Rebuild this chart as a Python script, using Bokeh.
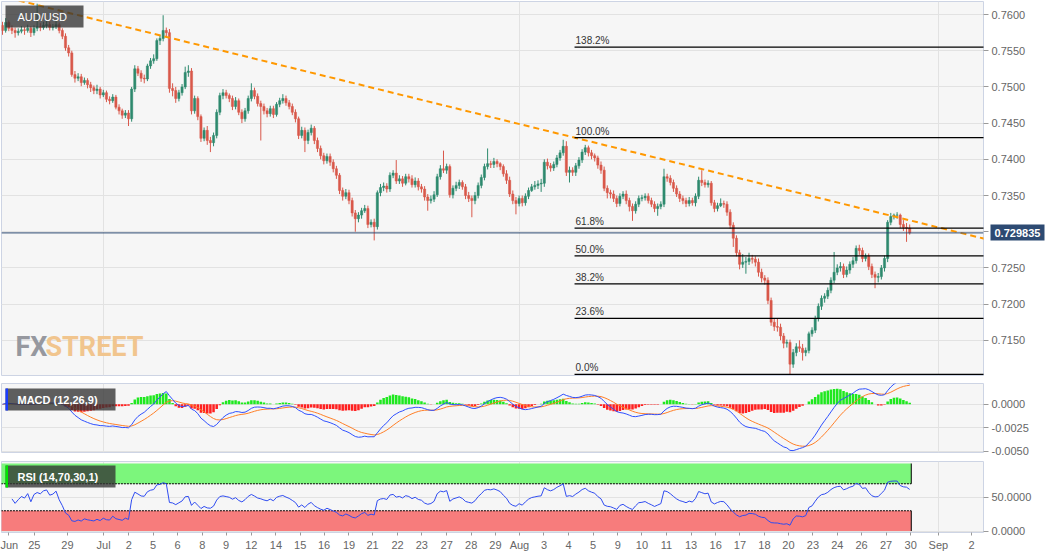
import numpy as np
import pandas as pd
from bokeh.plotting import figure
from bokeh.layouts import column
from bokeh.models import (ColumnDataSource, Range1d, FixedTicker, Grid, Label, Span,
                          BoxAnnotation, NumeralTickFormatter, CustomJSTickFormatter,
                          LinearAxis)
from bokeh.embed import file_html
from bokeh.resources import INLINE
from bokeh.core.properties import value

# ---------------- data (4H candles, AUD/USD) ----------------
symbol = "AUD/USD"
first_open = 0.7585
close = [
    0.7578, 0.7589, 0.7581, 0.7578, 0.7575, 0.7577, 0.7579, 0.7578, 0.7581, 0.7575,
    0.7581, 0.7583, 0.7582, 0.7585, 0.7586, 0.7582, 0.7583, 0.7586, 0.7578, 0.7570,
    0.7554, 0.7547, 0.7517, 0.7512, 0.7514, 0.7506, 0.7509, 0.7503, 0.7499, 0.7495,
    0.7497, 0.7489, 0.7492, 0.7483, 0.7481, 0.7486, 0.7472, 0.7467, 0.7461, 0.7464,
    0.7456, 0.7497, 0.7525, 0.7519, 0.7512, 0.7511, 0.7529, 0.7536, 0.7539, 0.7564,
    0.7567, 0.7578, 0.7575, 0.7498, 0.7495, 0.7484, 0.7492, 0.7500, 0.7520, 0.7522,
    0.7467, 0.7484, 0.7459, 0.7429, 0.7440, 0.7426, 0.7423, 0.7433, 0.7465, 0.7488,
    0.7492, 0.7488, 0.7484, 0.7473, 0.7481, 0.7465, 0.7456, 0.7467, 0.7484, 0.7495,
    0.7487, 0.7477, 0.7473, 0.7467, 0.7463, 0.7470, 0.7462, 0.7476, 0.7481, 0.7484,
    0.7478, 0.7473, 0.7465, 0.7456, 0.7433, 0.7440, 0.7426, 0.7437, 0.7443, 0.7426,
    0.7415, 0.7405, 0.7398, 0.7404, 0.7396, 0.7387, 0.7378, 0.7357, 0.7349, 0.7354,
    0.7343, 0.7326, 0.7318, 0.7323, 0.7329, 0.7332, 0.7310, 0.7313, 0.7307, 0.7354,
    0.7361, 0.7363, 0.7359, 0.7378, 0.7381, 0.7370, 0.7373, 0.7367, 0.7376, 0.7373,
    0.7365, 0.7370, 0.7362, 0.7359, 0.7348, 0.7343, 0.7345, 0.7351, 0.7376, 0.7387,
    0.7385, 0.7390, 0.7351, 0.7360, 0.7364, 0.7368, 0.7362, 0.7350, 0.7346, 0.7343,
    0.7350, 0.7364, 0.7375, 0.7390, 0.7394, 0.7393, 0.7397, 0.7394, 0.7390, 0.7380,
    0.7371, 0.7352, 0.7343, 0.7339, 0.7346, 0.7340, 0.7349, 0.7357, 0.7362, 0.7364,
    0.7366, 0.7367, 0.7396, 0.7391, 0.7388, 0.7393, 0.7402, 0.7409, 0.7418, 0.7382,
    0.7385, 0.7382, 0.7391, 0.7399, 0.7410, 0.7416, 0.7409, 0.7405, 0.7402, 0.7392,
    0.7385, 0.7360, 0.7354, 0.7352, 0.7346, 0.7339, 0.7349, 0.7352, 0.7343, 0.7335,
    0.7329, 0.7338, 0.7346, 0.7347, 0.7349, 0.7343, 0.7338, 0.7332, 0.7335, 0.7338,
    0.7376, 0.7374, 0.7368, 0.7360, 0.7352, 0.7346, 0.7343, 0.7339, 0.7343, 0.7340,
    0.7349, 0.7371, 0.7368, 0.7365, 0.7367, 0.7340, 0.7332, 0.7336, 0.7339, 0.7338,
    0.7327, 0.7309, 0.7291, 0.7271, 0.7255, 0.7258, 0.7259, 0.7263, 0.7262, 0.7258,
    0.7244, 0.7236, 0.7233, 0.7205, 0.7175, 0.7169, 0.7168, 0.7156, 0.7146, 0.7147,
    0.7117, 0.7133, 0.7141, 0.7139, 0.7133, 0.7136, 0.7159, 0.7164, 0.7180, 0.7197,
    0.7208, 0.7211, 0.7219, 0.7233, 0.7244, 0.7250, 0.7252, 0.7241, 0.7247, 0.7255,
    0.7260, 0.7277, 0.7274, 0.7263, 0.7266, 0.7252, 0.7241, 0.7237, 0.7238, 0.7250,
    0.7263, 0.7313, 0.7321, 0.7323, 0.7323, 0.7310, 0.7306, 0.7305, 0.729835,
]
high = [
    0.7590, 0.7595, 0.7592, 0.7585, 0.7582, 0.7581, 0.7584, 0.7583, 0.7586, 0.7584,
    0.7585, 0.7615, 0.7588, 0.7590, 0.7592, 0.7590, 0.7587, 0.7591, 0.7589, 0.7581,
    0.7574, 0.7558, 0.7550, 0.7522, 0.7519, 0.7518, 0.7513, 0.7512, 0.7507, 0.7502,
    0.7503, 0.7500, 0.7496, 0.7495, 0.7487, 0.7490, 0.7489, 0.7476, 0.7470, 0.7468,
    0.7468, 0.7500, 0.7530, 0.7529, 0.7523, 0.7517, 0.7532, 0.7540, 0.7545, 0.7567,
    0.7572, 0.7599, 0.7582, 0.7580, 0.7505, 0.7500, 0.7496, 0.7504, 0.7528, 0.7530,
    0.7526, 0.7488, 0.7487, 0.7462, 0.7444, 0.7446, 0.7431, 0.7437, 0.7469, 0.7492,
    0.7497, 0.7496, 0.7491, 0.7488, 0.7486, 0.7484, 0.7469, 0.7471, 0.7488, 0.7505,
    0.7499, 0.7491, 0.7481, 0.7477, 0.7471, 0.7474, 0.7474, 0.7479, 0.7485, 0.7490,
    0.7488, 0.7482, 0.7477, 0.7469, 0.7459, 0.7445, 0.7444, 0.7441, 0.7448, 0.7446,
    0.7430, 0.7419, 0.7409, 0.7408, 0.7408, 0.7400, 0.7391, 0.7381, 0.7361, 0.7359,
    0.7358, 0.7347, 0.7330, 0.7327, 0.7333, 0.7337, 0.7336, 0.7317, 0.7318, 0.7357,
    0.7366, 0.7368, 0.7367, 0.7382, 0.7385, 0.7399, 0.7378, 0.7377, 0.7380, 0.7380,
    0.7378, 0.7375, 0.7374, 0.7366, 0.7363, 0.7352, 0.7350, 0.7356, 0.7380, 0.7392,
    0.7412, 0.7394, 0.7393, 0.7364, 0.7369, 0.7372, 0.7371, 0.7366, 0.7355, 0.7350,
    0.7355, 0.7368, 0.7379, 0.7394, 0.7415, 0.7398, 0.7402, 0.7400, 0.7396, 0.7393,
    0.7385, 0.7376, 0.7357, 0.7348, 0.7350, 0.7350, 0.7353, 0.7361, 0.7366, 0.7370,
    0.7371, 0.7373, 0.7400, 0.7401, 0.7395, 0.7397, 0.7406, 0.7413, 0.7427, 0.7425,
    0.7390, 0.7389, 0.7395, 0.7403, 0.7414, 0.7420, 0.7419, 0.7413, 0.7408, 0.7405,
    0.7397, 0.7390, 0.7364, 0.7358, 0.7357, 0.7350, 0.7353, 0.7356, 0.7357, 0.7347,
    0.7339, 0.7342, 0.7350, 0.7351, 0.7353, 0.7353, 0.7347, 0.7342, 0.7339, 0.7342,
    0.7387, 0.7380, 0.7378, 0.7372, 0.7364, 0.7356, 0.7350, 0.7347, 0.7348, 0.7347,
    0.7353, 0.7376, 0.7385, 0.7372, 0.7371, 0.7370, 0.7344, 0.7340, 0.7346, 0.7343,
    0.7342, 0.7331, 0.7313, 0.7295, 0.7275, 0.7269, 0.7265, 0.7271, 0.7268, 0.7266,
    0.7263, 0.7249, 0.7240, 0.7237, 0.7209, 0.7180, 0.7180, 0.7173, 0.7160, 0.7151,
    0.7151, 0.7138, 0.7146, 0.7150, 0.7145, 0.7140, 0.7162, 0.7168, 0.7184, 0.7201,
    0.7212, 0.7215, 0.7223, 0.7237, 0.7272, 0.7255, 0.7258, 0.7256, 0.7252, 0.7259,
    0.7265, 0.7281, 0.7282, 0.7278, 0.7270, 0.7270, 0.7256, 0.7245, 0.7243, 0.7254,
    0.7267, 0.7316, 0.7326, 0.7325, 0.7327, 0.7325, 0.7316, 0.7312, 0.7310,
]
low = [
    0.7572, 0.7575, 0.7577, 0.7573, 0.7568, 0.7571, 0.7574, 0.7572, 0.7575, 0.7569,
    0.7571, 0.7577, 0.7577, 0.7579, 0.7581, 0.7578, 0.7578, 0.7580, 0.7574, 0.7566,
    0.7550, 0.7542, 0.7514, 0.7506, 0.7508, 0.7501, 0.7503, 0.7498, 0.7493, 0.7490,
    0.7490, 0.7484, 0.7486, 0.7479, 0.7476, 0.7478, 0.7469, 0.7462, 0.7456, 0.7457,
    0.7446, 0.7452, 0.7493, 0.7515, 0.7507, 0.7505, 0.7508, 0.7525, 0.7532, 0.7536,
    0.7558, 0.7563, 0.7569, 0.7492, 0.7487, 0.7478, 0.7480, 0.7488, 0.7497, 0.7514,
    0.7462, 0.7463, 0.7454, 0.7424, 0.7425, 0.7420, 0.7410, 0.7418, 0.7429, 0.7461,
    0.7483, 0.7484, 0.7479, 0.7468, 0.7469, 0.7461, 0.7450, 0.7452, 0.7463, 0.7480,
    0.7483, 0.7473, 0.7426, 0.7462, 0.7458, 0.7459, 0.7457, 0.7459, 0.7472, 0.7477,
    0.7474, 0.7469, 0.7461, 0.7451, 0.7428, 0.7429, 0.7410, 0.7421, 0.7433, 0.7421,
    0.7410, 0.7400, 0.7393, 0.7394, 0.7391, 0.7382, 0.7373, 0.7352, 0.7343, 0.7345,
    0.7338, 0.7321, 0.7300, 0.7313, 0.7318, 0.7326, 0.7305, 0.7306, 0.7288, 0.7303,
    0.7349, 0.7356, 0.7354, 0.7355, 0.7374, 0.7366, 0.7366, 0.7362, 0.7364, 0.7368,
    0.7361, 0.7361, 0.7357, 0.7354, 0.7343, 0.7329, 0.7339, 0.7341, 0.7348, 0.7372,
    0.7381, 0.7380, 0.7347, 0.7346, 0.7356, 0.7359, 0.7358, 0.7345, 0.7341, 0.7320,
    0.7338, 0.7346, 0.7360, 0.7371, 0.7386, 0.7388, 0.7388, 0.7389, 0.7385, 0.7376,
    0.7366, 0.7348, 0.7338, 0.7324, 0.7335, 0.7335, 0.7336, 0.7345, 0.7355, 0.7358,
    0.7359, 0.7355, 0.7362, 0.7386, 0.7383, 0.7384, 0.7389, 0.7398, 0.7405, 0.7377,
    0.7368, 0.7377, 0.7377, 0.7387, 0.7395, 0.7406, 0.7404, 0.7400, 0.7397, 0.7387,
    0.7380, 0.7356, 0.7346, 0.7346, 0.7341, 0.7334, 0.7335, 0.7345, 0.7338, 0.7328,
    0.7315, 0.7325, 0.7334, 0.7342, 0.7343, 0.7339, 0.7334, 0.7327, 0.7322, 0.7331,
    0.7334, 0.7369, 0.7364, 0.7355, 0.7348, 0.7341, 0.7338, 0.7334, 0.7335, 0.7336,
    0.7335, 0.7345, 0.7363, 0.7361, 0.7361, 0.7336, 0.7327, 0.7328, 0.7334, 0.7333,
    0.7322, 0.7304, 0.7279, 0.7266, 0.7248, 0.7250, 0.7242, 0.7254, 0.7256, 0.7252,
    0.7238, 0.7230, 0.7227, 0.7200, 0.7170, 0.7163, 0.7162, 0.7150, 0.7139, 0.7140,
    0.7103, 0.7112, 0.7128, 0.7134, 0.7122, 0.7128, 0.7132, 0.7155, 0.7160, 0.7176,
    0.7192, 0.7202, 0.7207, 0.7215, 0.7229, 0.7240, 0.7245, 0.7236, 0.7237, 0.7242,
    0.7250, 0.7256, 0.7268, 0.7258, 0.7259, 0.7247, 0.7236, 0.7222, 0.7230, 0.7234,
    0.7245, 0.7258, 0.7309, 0.7317, 0.7318, 0.7305, 0.7301, 0.7286, 0.7296,
]

# x-axis date labels (candle index where each label sits)
tick_pos = [2.0, 10.1, 20.6, 32.1, 40.1, 47.8, 55.6, 63.4, 71.0, 79.0, 86.8, 94.5,
            102.1, 110.0, 117.5, 125.4, 133.1, 141.0, 148.8, 156.5, 164.1, 171.9,
            179.7, 187.5, 195.3, 203.0, 210.8, 218.6, 226.4, 234.1, 241.9, 249.5,
            257.3, 265.0, 272.7, 280.5, 288.3, 297.1, 307.6]
tick_labels = ["Jun", "25", "29", "Jul", "2", "5", "6", "8", "9", "12", "14", "15",
               "16", "19", "21", "22", "23", "27", "28", "29", "Aug", "3",
               "4", "5", "9", "10", "11", "13", "16", "17", "18", "20",
               "23", "24", "26", "27", "30", "Sep", "2"]
month_pos = [32.1, 164.1, 297.1]

price_ticks = [0.7150, 0.7200, 0.7250, 0.7300, 0.7350, 0.7400, 0.7450, 0.7500, 0.7550, 0.7600]
macd_ticks = [-0.0050, -0.0025, 0.0]
rsi_ticks = [0.0, 50.0]

# Fibonacci retracement (Aug 20 low -> Aug 4 high)
fib_low = 0.7103
fib_high = 0.7430
fib_ratios = [0.0, 0.236, 0.382, 0.5, 0.618, 1.0, 1.382]
fib_labels = ["0.0%", "23.6%", "38.2%", "50.0%", "61.8%", "100.0%", "138.2%"]
fib_start = 181.6

# descending trend line anchors (candle index, price)
trend_idx = [-1.0, 312.0]
trend_price = [0.76260, 0.72900]

rsi_upper = 70
rsi_lower = 30

# ---------------- derived ----------------
n = len(close)
idx = np.arange(n)
c = np.array(close)
o = np.array([first_open] + close[:-1])
GREEN, RED = "#2e8a6e", "#d9584a"
col = np.where(c >= o, GREEN, RED)
src = ColumnDataSource(dict(x=idx, h=high, l=low, top=np.maximum(o, c),
                            bot=np.minimum(o, c), col=col))

s = pd.Series(close)
ema12 = s.ewm(span=12, adjust=False).mean()
ema26 = s.ewm(span=26, adjust=False).mean()
macd = ema12 - ema26
signal = macd.ewm(span=9, adjust=False).mean()
hist = macd - signal
d = s.diff()
gain = d.clip(lower=0)
loss = (-d).clip(lower=0)
ag = gain.ewm(alpha=1 / 14, adjust=True, min_periods=3).mean()
al = loss.ewm(alpha=1 / 14, adjust=True, min_periods=3).mean()
rsi = 100 - 100 / (1 + ag / al)

levels = [fib_low + r * (fib_high - fib_low) for r in fib_ratios]

# ---------------- styling helpers ----------------
X0, X1 = -0.317, 311.43
xr = Range1d(X0, X1)
BG = "#f6f6f6"
GRIDC = "#e2e2e2"
OUTC = "#cdd4e4"
FONT = "Liberation Sans"
NAVY = "#2d4a72"


def make_fig(height, yr, top, bottom, xaxis, yaxis=True):
    p = figure(width=1060, height=height, x_range=xr, y_range=yr, output_backend="svg",
               toolbar_location=None, title=None,
               x_axis_location=("below" if xaxis else None),
               y_axis_location=("right" if yaxis else None),
               min_border_left=1, min_border_right=77, min_border_top=top,
               min_border_bottom=bottom, background_fill_color=BG,
               border_fill_color="white", outline_line_color=OUTC)
    for g in p.xgrid:
        g.visible = False
    p.add_layout(Grid(dimension=0, ticker=FixedTicker(ticks=month_pos),
                      grid_line_color=GRIDC, grid_line_width=1))
    return p


def style_axis(ax, ticks):
    ax.ticker = FixedTicker(ticks=ticks)
    ax.formatter = NumeralTickFormatter(format="0.0000")
    ax.axis_line_color = None
    ax.major_tick_out = 5
    ax.major_tick_in = 0
    ax.major_tick_line_color = "#9a9a9a"
    ax.minor_tick_line_color = None
    ax.major_label_text_font = FONT
    ax.major_label_text_font_size = "11px"
    ax.major_label_text_color = "#666666"
    ax.major_label_standoff = 3


def style_yaxis(p, ticks):
    style_axis(p.yaxis[0], ticks)
    p.ygrid.ticker = FixedTicker(ticks=ticks)
    p.ygrid.grid_line_color = GRIDC


def tag_box(p, left, right, top, bottom, bar_color, text):
    p.add_layout(BoxAnnotation(left=left, right=right, top=top, bottom=bottom,
                               left_units="screen", right_units="screen",
                               top_units="screen", bottom_units="screen",
                               fill_color="#333333", fill_alpha=0.78, line_color=None))
    if bar_color:
        p.add_layout(BoxAnnotation(left=left, right=left + 2.5, top=top, bottom=bottom,
                                   left_units="screen", right_units="screen",
                                   top_units="screen", bottom_units="screen",
                                   fill_color=bar_color, fill_alpha=1, line_color=None))
    p.add_layout(Label(x=left + 12, y=(top + bottom) / 2, x_units="screen", y_units="screen",
                       text=text, text_color="white", text_font=FONT,
                       text_font_size="11px",
                       text_font_style=("bold" if bar_color else "normal"),
                       text_baseline="middle"))


# ---------------- main price panel ----------------
p1 = make_fig(378, Range1d(0.71014, 0.76180), 1, 3, False, yaxis=False)
p1.add_layout(Grid(dimension=1, ticker=FixedTicker(ticks=price_ticks),
                   grid_line_color=GRIDC, grid_line_width=1))
price_axis = LinearAxis()
style_axis(price_axis, price_ticks)
p1.add_layout(price_axis, "right")

# last-price tag drawn by a second right axis (one tick, thick navy tick mark)
tag_axis = LinearAxis(ticker=FixedTicker(ticks=[close[-1]]),
                      formatter=NumeralTickFormatter(format="0.000000"),
                      axis_line_color=None, minor_tick_line_color=None,
                      minor_tick_in=0, minor_tick_out=0,
                      major_tick_in=38, major_tick_out=16,
                      major_tick_line_width=16, major_tick_line_color=NAVY,
                      major_tick_line_cap="butt",
                      major_label_standoff=-50, major_label_text_color="white",
                      major_label_text_font=FONT, major_label_text_font_size="11px",
                      major_label_text_font_style="bold")
p1.add_layout(tag_axis, "right")

p1.segment(x0="x", y0="h", x1="x", y1="l", source=src, line_color="col", line_width=1)
p1.vbar(x="x", width=0.7, top="top", bottom="bot", source=src,
        fill_color="col", line_color="col", line_width=0.5)

p1.line(trend_idx, trend_price, line_color="#ff9800", line_width=2, line_dash="6 4")

p1.segment(x0=[fib_start] * len(levels), y0=levels, x1=[X1 + 2] * len(levels), y1=levels,
           line_color="black", line_width=1.3)
p1.text(x=[fib_start] * len(levels), y=levels, text=fib_labels,
        text_font=value(FONT), text_font_size=value("10px"), text_color="#333333",
        text_baseline="bottom", x_offset=1, y_offset=-1)

p1.add_layout(Span(location=close[-1], dimension="width", line_color=NAVY, line_width=1))

# watermark
p1.add_layout(Label(x=14, y=29, x_units="screen", y_units="screen", text="FX",
                    text_font="Roboto", text_font_style="bold",
                    text_font_size="27px", text_color="#96989f",
                    text_baseline="alphabetic"))
p1.add_layout(Label(x=44, y=29, x_units="screen", y_units="screen", text="STREET",
                    text_font="Roboto", text_font_style="bold",
                    text_font_size="27px", text_color="#f1c58e",
                    text_baseline="alphabetic"))

tag_box(p1, 4, 82, 370, 348, None, symbol)

# ---------------- MACD panel ----------------
p2 = make_fig(78, Range1d(-0.00511, 0.00220), 5, 4, False)
style_yaxis(p2, macd_ticks)
hcol = np.where(hist.values >= 0, "#1fe81f", "#ff2020")
p2.vbar(x=idx, top=hist.values, bottom=0, width=0.8, fill_color=hcol, line_color=None)
p2.line(idx, signal.values, line_color="#ff7f27", line_width=1)
p2.line(idx, macd.values, line_color="#2f50ff", line_width=1)
tag_box(p2, 4, 114, 64, 42, "#1a3cff", "MACD (12,26,9)")

# ---------------- RSI panel ----------------
p3 = make_fig(99, Range1d(-2.2, 103.0), 5, 23, True)
style_yaxis(p3, rsi_ticks)
p3.quad(left=-0.5, right=n - 0.5, bottom=rsi_upper, top=100, fill_color="#7cf67c",
        line_color=None)
p3.quad(left=-0.5, right=n - 0.5, bottom=0, top=rsi_lower, fill_color="#f77c7c",
        line_color=None)
p3.segment(x0=[-0.5, -0.5], x1=[n - 0.5, n - 0.5], y0=[rsi_upper, rsi_lower],
           y1=[rsi_upper, rsi_lower], line_color="black", line_width=1, line_dash="2 1")
p3.segment(x0=[n - 0.5, n - 0.5], x1=[n - 0.5, n - 0.5], y0=[rsi_upper, 0],
           y1=[100, rsi_lower], line_color="black", line_width=1)
p3.line(idx, rsi.values, line_color="#2f4cf0", line_width=1)
tag_box(p3, 4, 114, 67, 45, "#00e600", "RSI (14,70,30,1)")

xa = p3.xaxis[0]
xa.ticker = FixedTicker(ticks=tick_pos)
xa.formatter = CustomJSTickFormatter(args=dict(pos=tick_pos, lab=tick_labels), code="""
    for (let i = 0; i < pos.length; i++) { if (Math.abs(pos[i] - tick) < 1e-6) return lab[i]; }
    return '';
""")
xa.axis_line_color = None
xa.major_tick_out = 3
xa.major_tick_in = 0
xa.major_tick_line_color = "#9a9a9a"
xa.minor_tick_line_color = None
xa.major_label_text_font = FONT
xa.major_label_text_font_size = "11px"
xa.major_label_text_color = "#666666"
xa.major_label_standoff = 3

layout = column(p1, p2, p3, spacing=0)
open("out.html", "w").write(file_html(layout, INLINE))
